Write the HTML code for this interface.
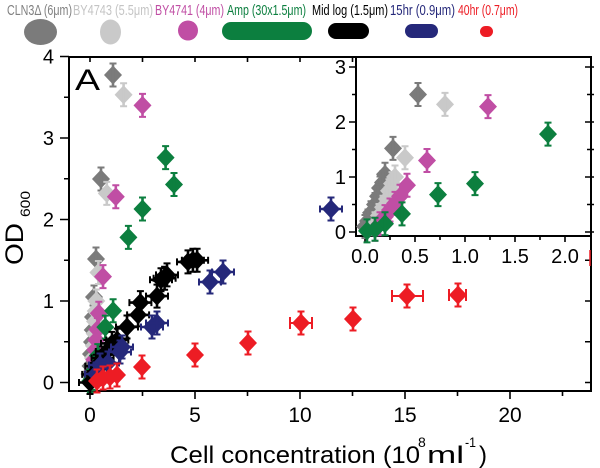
<!DOCTYPE html>
<html><head><meta charset="utf-8"><style>
html,body{margin:0;padding:0;background:#fff;}
svg{display:block;font-family:"Liberation Sans",Arial,sans-serif;}
</style></head><body>
<svg width="600" height="468" viewBox="0 0 600 468" xmlns="http://www.w3.org/2000/svg">
<defs>
<g id="d"><path d="M0 -9.5L9 0L0 9.5L-9 0Z" stroke="none"/><path d="M0 -11.5V11.5" fill="none" stroke-width="2.6"/><path d="M-3.5 -11.5H3.5M-3.5 11.5H3.5" fill="none" stroke-width="2"/></g>
<g id="e"><path d="M0 -9.5L9 0L0 9.5L-9 0Z" stroke="none"/><path d="M0 -11.5V11.5M-11 0H11" fill="none" stroke-width="2.6"/><path d="M-3.5 -11.5H3.5M-3.5 11.5H3.5M-11 -3.5V3.5M11 -3.5V3.5" fill="none" stroke-width="2"/></g>
</defs>
<rect width="600" height="468" fill="#fff"/>

<g font-size="14.5">
<text x="7" y="15" fill="#808080" textLength="65" lengthAdjust="spacingAndGlyphs">CLN3Δ (6μm)</text>
<text x="73" y="15" fill="#c4c4c4" textLength="80" lengthAdjust="spacingAndGlyphs">BY4743 (5.5μm)</text>
<text x="155" y="15" fill="#c04ea4" textLength="69" lengthAdjust="spacingAndGlyphs">BY4741 (4μm)</text>
<text x="227" y="15" fill="#0c7f3f" textLength="79" lengthAdjust="spacingAndGlyphs">Amp (30x1.5μm)</text>
<text x="312" y="15" fill="#000" textLength="76" lengthAdjust="spacingAndGlyphs">Mid log (1.5μm)</text>
<text x="390" y="15" fill="#25287a" textLength="65" lengthAdjust="spacingAndGlyphs">15hr (0.9μm)</text>
<text x="458" y="15" fill="#ed1c24" textLength="60" lengthAdjust="spacingAndGlyphs">40hr (0.7μm)</text>
</g>
<ellipse cx="40.5" cy="32" rx="16.5" ry="13" fill="#7b7b7b"/>
<ellipse cx="110.5" cy="32" rx="10.5" ry="12.5" fill="#c9c9c9"/>
<circle cx="188" cy="30.5" r="10" fill="#c04ea4"/>
<rect x="222" y="22" width="90" height="18" rx="9" fill="#0c7f3f"/>
<rect x="328" y="23" width="41" height="16" rx="8" fill="#000"/>
<rect x="405" y="24" width="33" height="14" rx="7" fill="#25287a"/>
<rect x="480" y="26" width="13" height="11" rx="5.5" fill="#ed1c24"/>

<rect x="69" y="57" width="522" height="334" fill="none" stroke="#000" stroke-width="2"/>
<g stroke="#000" stroke-width="1.6">
<path d="M60 382.5H69M64 341.75H69M60 301H69M64 260.25H69M60 219.5H69M64 178.75H69M60 138H69M64 97.25H69M60 56.5H69"/>
<path d="M90 391V399M142.5 391V396M195 391V399M247.5 391V396M300 391V399M352.5 391V396M405 391V399M457.5 391V396M510 391V399M562.5 391V396"/>
<path d="M90 57V62M142.5 57V62M195 57V62M247.5 57V62M300 57V62M352.5 57V62"/>
<path d="M591 382.5H585M591 341.75H585M591 301H585M591 260.25H585"/>
</g>
<line x1="590" y1="250" x2="590" y2="266" stroke="#ed1c24" stroke-width="1.5"/>

<g font-size="20" text-anchor="end" fill="#000">
<text x="54" y="389.5">0</text>
<text x="54" y="308">1</text>
<text x="54" y="226.5">2</text>
<text x="54" y="145">3</text>
<text x="54" y="63.5">4</text>
</g>
<g font-size="21" text-anchor="middle" fill="#000">
<text x="90" y="422">0</text>
<text x="195" y="422">5</text>
<text x="300" y="422">10</text>
<text x="405" y="422">15</text>
<text x="510" y="422">20</text>
</g>
<text x="170" y="463" font-size="24" textLength="250" lengthAdjust="spacingAndGlyphs">Cell concentration (10</text>
<text x="418" y="447" font-size="14">8</text>
<text x="427" y="463" font-size="24" textLength="37" lengthAdjust="spacingAndGlyphs">ml</text>
<text x="465" y="447" font-size="14" textLength="11" lengthAdjust="spacingAndGlyphs">-1</text>
<text x="479" y="463" font-size="24">)</text>
<text transform="translate(23,265) rotate(-90)" font-size="25" textLength="42" lengthAdjust="spacingAndGlyphs">OD</text>
<text transform="translate(30,217) rotate(-90)" font-size="14" textLength="26" lengthAdjust="spacingAndGlyphs">600</text>
<text x="75" y="90" font-size="30" textLength="25" lengthAdjust="spacingAndGlyphs">A</text>

<g fill="#7b7b7b" stroke="#7b7b7b">
<use href="#d" x="113" y="75"/><use href="#d" x="101" y="179"/><use href="#d" x="96" y="259"/><use href="#d" x="94" y="297"/><use href="#d" x="93" y="317"/><use href="#d" x="92.7" y="330"/><use href="#d" x="92" y="342"/><use href="#d" x="91" y="354"/><use href="#d" x="90.5" y="366"/><use href="#d" x="89.5" y="374"/>
</g>
<g fill="#c9c9c9" stroke="#c9c9c9">
<use href="#d" x="123.6" y="94.8"/><use href="#d" x="106.8" y="193.4"/><use href="#d" x="98.4" y="272.5"/><use href="#d" x="96.3" y="301"/><use href="#d" x="95.7" y="311"/><use href="#d" x="95" y="321.4"/><use href="#d" x="94.6" y="333.6"/><use href="#d" x="93.8" y="345.8"/><use href="#d" x="93" y="358"/><use href="#d" x="92.1" y="370.3"/>
</g>
<g fill="#c04ea4" stroke="#c04ea4">
<use href="#d" x="142.5" y="105.4"/><use href="#d" x="115.8" y="196.7"/><use href="#d" x="103" y="276.6"/><use href="#d" x="98.8" y="313.2"/><use href="#d" x="97.4" y="329.5"/><use href="#d" x="96.3" y="340"/><use href="#d" x="95.3" y="349.9"/><use href="#d" x="94.2" y="359.7"/><use href="#d" x="93.2" y="370.3"/><use href="#d" x="92.1" y="378.4"/>
</g>
<g fill="#0c7f3f" stroke="#0c7f3f">
<use href="#d" x="165.6" y="157.6"/><use href="#d" x="174" y="184.5"/><use href="#d" x="142.5" y="209"/><use href="#d" x="128.4" y="237.4"/><use href="#d" x="113.1" y="310.8"/><use href="#d" x="105.3" y="327.1"/><use href="#d" x="97.8" y="355.6"/><use href="#d" x="94.2" y="370.3"/><use href="#d" x="92.1" y="378.4"/><use href="#d" x="90.4" y="380.9"/>
</g>
<g fill="#000" stroke="#000">
<use href="#e" x="90" y="382.5"/><use href="#e" x="93.2" y="374.4"/><use href="#e" x="96.3" y="366.2"/><use href="#e" x="102.6" y="358"/><use href="#e" x="106.8" y="351.5"/><use href="#e" x="112" y="343.4"/><use href="#e" x="117.3" y="340.1"/><use href="#e" x="127" y="327"/><use href="#e" x="138.1" y="314.9"/><use href="#e" x="140.4" y="302.6"/><use href="#e" x="157" y="296.1"/><use href="#e" x="161" y="279.8"/><use href="#e" x="164.6" y="278.2"/><use href="#e" x="167" y="274.9"/><use href="#e" x="188" y="261.9"/><use href="#e" x="192.9" y="260.3"/><use href="#e" x="197.1" y="260.3"/>
</g>
<g fill="#25287a" stroke="#25287a">
<use href="#e" x="96" y="374"/><use href="#e" x="100" y="365"/><use href="#e" x="108" y="363"/><use href="#e" x="120" y="352"/><use href="#e" x="122" y="347"/><use href="#e" x="152" y="327"/><use href="#e" x="157" y="323"/><use href="#e" x="210" y="282"/><use href="#e" x="223" y="272"/><use href="#e" x="331" y="209"/>
</g>
<g fill="#ed1c24" stroke="#ed1c24">
<use href="#d" x="97" y="381"/><use href="#d" x="103" y="378"/><use href="#d" x="110" y="377"/><use href="#d" x="117" y="375"/><use href="#d" x="142" y="367"/><use href="#d" x="195" y="355"/><use href="#d" x="248" y="343"/><use href="#d" x="301" y="323"/><use href="#d" x="353" y="319"/><use href="#d" x="407" y="296"/><use href="#d" x="458" y="295"/>
<path d="M290 323H312M392 296H423M449 295H466" fill="none" stroke-width="2"/>
<path d="M290 317V329M312 317V329M392 290V302M423 290V302M449 289V301M466 289V301" fill="none" stroke-width="2"/>
</g>

<rect x="356" y="57" width="235" height="179" fill="#fff" stroke="#000" stroke-width="2"/>
<g stroke="#000" stroke-width="1.6">
<path d="M349 232H356M352 204.5H356M349 177H356M352 149.5H356M349 122H356M352 94.5H356M349 67H356"/>
<path d="M585 232H594M587 204.5H594M585 177H594M587 149.5H594M585 122H594M587 94.5H594M585 67H594"/>
<path d="M365 236V242M390 236V240M415 236V242M440 236V240M465 236V242M490 236V240M515 236V242M540 236V240M565 236V242"/>
</g>
<g font-size="20" text-anchor="end">
<text x="346" y="239">0</text>
<text x="346" y="184">1</text>
<text x="346" y="129">2</text>
<text x="346" y="74">3</text>
</g>
<g font-size="20" text-anchor="middle">
<text x="365" y="263">0.0</text>
<text x="415" y="263">0.5</text>
<text x="465" y="263">1.0</text>
<text x="515" y="263">1.5</text>
<text x="565" y="263">2.0</text>
</g>
<g fill="#7b7b7b" stroke="#7b7b7b">
<use href="#d" x="418" y="94.5"/><use href="#d" x="393" y="148.4"/><use href="#d" x="385" y="174.3"/><use href="#d" x="383" y="182.5"/><use href="#d" x="380" y="188"/><use href="#d" x="378" y="196.3"/><use href="#d" x="375" y="204.5"/><use href="#d" x="371" y="212.8"/><use href="#d" x="368" y="221"/><use href="#d" x="365" y="226.5"/>
</g>
<g fill="#c9c9c9" stroke="#c9c9c9">
<use href="#d" x="445" y="104.4"/><use href="#d" x="405" y="157.8"/><use href="#d" x="395" y="177"/><use href="#d" x="392" y="183.6"/><use href="#d" x="389" y="190.8"/><use href="#d" x="387" y="199"/><use href="#d" x="383" y="207.3"/><use href="#d" x="379" y="215.5"/><use href="#d" x="375" y="223.8"/>
</g>
<g fill="#c04ea4" stroke="#c04ea4">
<use href="#d" x="488" y="106.6"/><use href="#d" x="427" y="160.5"/><use href="#d" x="407" y="185.3"/><use href="#d" x="400" y="196.3"/><use href="#d" x="395" y="203.4"/><use href="#d" x="390" y="210"/><use href="#d" x="385" y="216.6"/><use href="#d" x="380" y="223.8"/><use href="#d" x="375" y="229.3"/>
</g>
<g fill="#0c7f3f" stroke="#0c7f3f">
<use href="#d" x="548" y="134.1"/><use href="#d" x="475" y="183.6"/><use href="#d" x="438" y="194.6"/><use href="#d" x="402" y="213.9"/><use href="#d" x="385" y="223.8"/><use href="#d" x="375" y="229.3"/><use href="#d" x="367" y="230.9"/>
</g>
</svg>
</body></html>
